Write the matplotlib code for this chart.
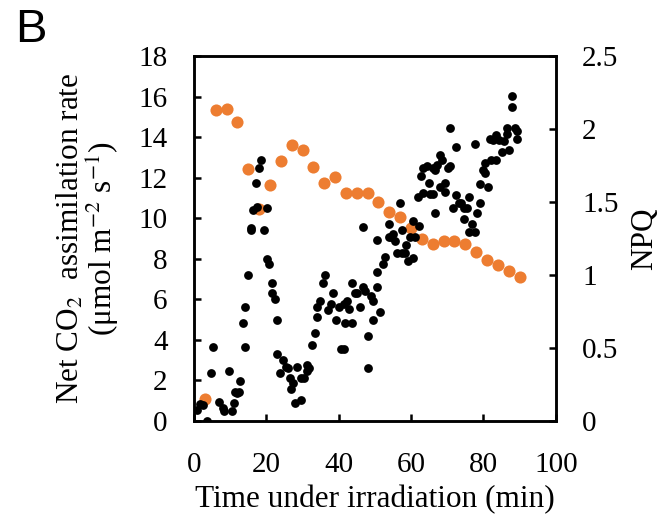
import matplotlib.pyplot as plt

# Net CO2 assimilation rate (black dots)
time_a = [0.7, 1.7, 2.4, 3.7, 4.6, 5.3, 6.8, 8.1, 8.4, 9.8, 10.5, 11.1, 11.4, 11.8, 12.5, 12.7,
          13.5, 14.2, 14.2, 14.9, 15.7, 15.8, 16.4, 17.1, 17.3, 17.9, 18.5, 19.4, 20.1, 20.1,
          20.8, 21.6, 21.6, 22.3, 23.0, 23.0, 23.8, 24.5, 25.3, 26.0, 26.5, 26.7, 27.5, 28.0,
          28.6, 29.7, 29.7, 30.4, 31.2, 31.7, 31.2, 32.6, 33.4, 34.0, 34.1, 34.8, 35.6, 36.3,
          37.0, 37.8, 38.5, 39.3, 40.0, 40.7, 41.4, 41.4, 42.2, 41.8, 42.9, 43.7, 43.7, 44.4,
          45.1, 45.9, 46.6, 46.6, 47.4, 48.1, 48.1, 48.8, 49.6, 49.6, 50.5, 50.7, 50.7, 51.4,
          52.3, 52.9, 53.8, 53.9, 54.4, 55.1, 55.5, 56.0, 57.0, 57.5, 57.5, 58.2, 58.6, 59.2,
          59.7, 60.5, 60.6, 61.2, 62.1, 61.9, 62.7, 63.2, 63.4, 64.3, 64.9, 65.3, 66.0, 66.2,
          66.7, 66.7, 67.3, 68.0, 68.0, 68.6, 69.5, 69.5, 70.2, 70.8, 70.8, 71.7, 72.4, 72.4,
          73.2, 73.9, 74.6, 74.6, 75.4, 76.1, 76.8, 76.1, 77.6, 77.6, 78.3, 79.1, 79.1, 79.8,
          80.5, 81.3, 80.5, 82.0, 83.5, 81.8, 82.7, 83.5, 84.2, 85.0, 85.7, 86.5, 87.2, 86.5,
          87.9, 87.9, 88.7, 89.4, 89.4]
assim = [0.54, 0.84, 0.79, 0.0, 2.35, 3.66, 0.94, 0.62, 0.5, 2.48, 0.5, 0.9, 1.43, 1.37, 1.43, 1.96,
         4.85, 5.64, 3.66, 7.21, 9.5, 9.42, 10.4, 11.72, 10.56, 12.5, 12.9, 9.44, 10.5, 8.0,
         7.74, 6.82, 6.33, 6.03, 4.98, 3.29, 2.35, 3.0, 2.68, 2.6, 2.1, 1.56, 1.86, 0.9,
         2.68, 1.04, 2.1, 2.1, 2.76, 2.6, 2.48, 3.75, 4.32, 5.11, 5.64, 5.93, 6.79, 7.21,
         5.47, 5.77, 6.3, 4.98, 5.64, 3.53, 3.53, 5.77, 5.93, 4.85, 5.54, 4.85, 6.82, 6.3,
         6.3, 5.64, 6.62, 9.58, 6.43, 4.19, 2.61, 6.16, 4.98, 5.9, 7.35, 8.93, 6.6, 5.39,
         7.77, 8.1, 9.06, 9.71, 9.1, 9.25, 8.9, 8.27, 10.77, 9.42, 8.27, 8.27, 8.68, 7.9,
         9.1, 9.86, 8.02, 9.1, 9.62, 11.03, 12.08, 11.26, 12.48, 12.6, 11.72, 11.19, 11.19, 12.46,
         12.36, 10.24, 12.62, 13.13, 11.55, 12.9, 11.72, 11.29, 12.46, 12.6, 14.45, 10.5, 13.53, 11.13,
         10.77, 10.77, 10.49, 9.98, 10.5, 11.03, 9.71, 9.32, 9.32, 13.66, 10.24, 10.77, 11.69, 12.36,
         12.23, 11.55, 12.74, 12.87, 12.87, 13.92, 13.86, 14.09, 13.86, 13.26, 13.79, 14.45, 13.39, 14.18,
         15.5, 16.03, 14.45, 14.32, 13.92]

# NPQ (orange dots)
time_npq = [3, 6, 9, 12, 15, 18, 21, 24, 27, 30, 33, 36, 39, 42, 45, 48, 51, 54, 57, 60,
            63, 66, 69, 72, 75, 78, 81, 84, 87, 90]
npq = [0.15, 2.13, 2.14, 2.05, 1.73, 1.45, 1.62, 1.78, 1.89, 1.86, 1.74, 1.63, 1.67, 1.56, 1.56,
       1.56, 1.50, 1.43, 1.40, 1.32, 1.25, 1.21, 1.23, 1.23, 1.21, 1.16, 1.10, 1.07, 1.03, 0.99]

plt.rcParams['font.family'] = ['Liberation Serif', 'DejaVu Serif']
plt.rcParams['mathtext.fontset'] = 'stix'

fig = plt.figure(figsize=(6.68, 5.2), dpi=100)
ax = fig.add_axes([0.2904, 0.1904, 0.5416, 0.7016])
ax2 = ax.twinx()

ax2.scatter(time_npq, npq, s=76, color='#ED7D31', linewidths=0, zorder=2)
ax.scatter(time_a, assim, s=40, color='black', linewidths=0, zorder=3)
ax.set_zorder(ax2.get_zorder() + 1)
ax.patch.set_visible(False)

ax.set_xlim(0, 100)
ax.set_ylim(0, 18)
ax.set_xticks(range(0, 101, 20))
ax.set_yticks(range(0, 19, 2))
ax2.set_ylim(0, 2.5)
ax2.set_yticks([0, 0.5, 1, 1.5, 2, 2.5])
ax2.set_yticklabels(['0', '0.5', '1', '1.5', '2', '2.5'])

for a in (ax, ax2):
    for sp in a.spines.values():
        sp.set_linewidth(1.8)
    a.tick_params(direction='in', length=5, width=1.8, labelsize=21, pad=19)
ax.tick_params(axis='x', pad=22)

ax.set_xlabel('Time under irradiation (min)', fontsize=22.5, labelpad=5)
ax.set_ylabel('Net CO$_2$  assimilation rate\n(μmol m$^{-2}$ s$^{-1}$)', fontsize=22.5,
              labelpad=12, linespacing=0.95)
ax2.set_ylabel('NPQ', fontsize=22.5, labelpad=8)

fig.text(0.022, 0.985, 'B', fontsize=34, family='Liberation Sans', va='top', ha='left')

fig.savefig('out.png', dpi=100)
